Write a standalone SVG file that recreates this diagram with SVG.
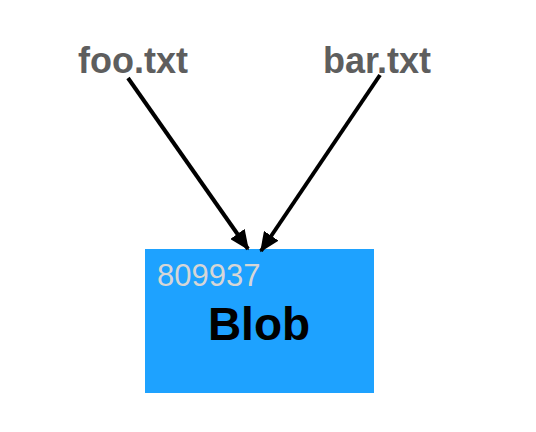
<svg xmlns="http://www.w3.org/2000/svg" width="536" height="432" viewBox="0 0 536 432">
<defs>
<style>
.lbl{font-family:"Liberation Sans",Arial,sans-serif;font-weight:bold;font-size:36px;fill:#5e5e5e}
.id{font-family:"Liberation Sans",Arial,sans-serif;font-size:31px;fill:#d6d6d6}
.title{font-family:"Liberation Sans",Arial,sans-serif;font-weight:bold;font-size:46px;fill:#000}
.edge{stroke:#000;stroke-width:4;fill:none}
</style>
<marker id="ah" markerWidth="5" markerHeight="4.4" refX="4.6" refY="2.2" orient="auto" markerUnits="strokeWidth">
<path d="M0,0 L5,2.2 L0,4.4 Z" fill="#000"/>
</marker>
</defs>
<rect width="536" height="432" fill="#fff"/>
<g id="foo"><text class="lbl" x="133" y="73" text-anchor="middle">foo.txt</text></g>
<g id="bar"><text class="lbl" x="377" y="73" text-anchor="middle">bar.txt</text></g>
<g id="blob">
<rect x="145" y="249" width="229" height="144" fill="#1ea2ff"/>
<text class="id" x="157" y="286">809937</text>
<text class="title" x="259" y="340" text-anchor="middle">Blob</text>
</g>
<g id="connectors">
<line class="edge" x1="128" y1="78" x2="248" y2="249" marker-end="url(#ah)"/>
<line class="edge" x1="380" y1="75" x2="261" y2="251" marker-end="url(#ah)"/>
</g>
</svg>
